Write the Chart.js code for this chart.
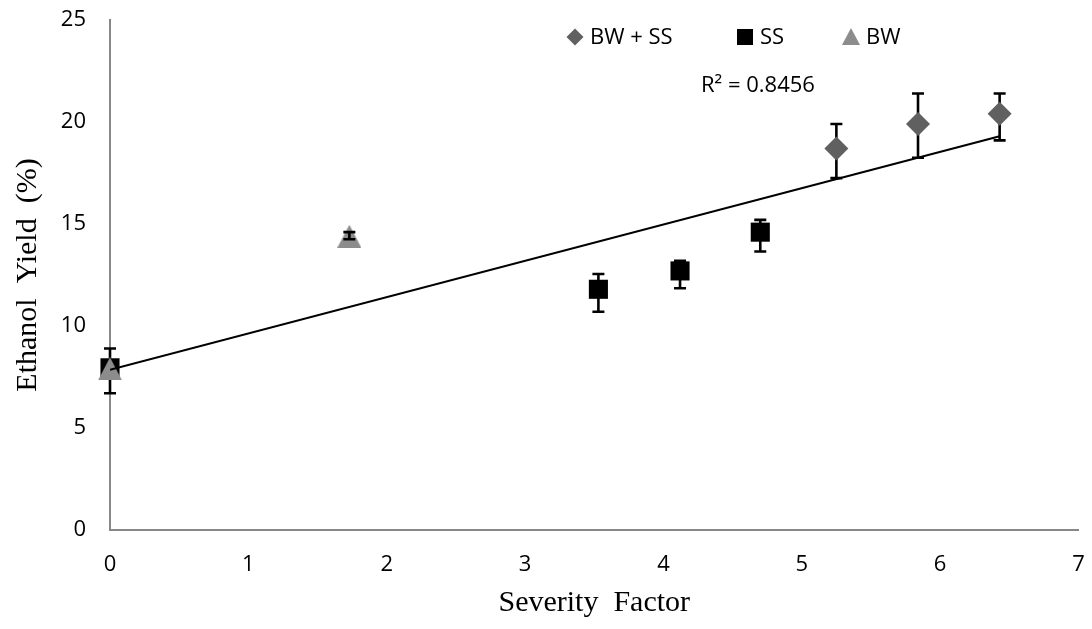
<!DOCTYPE html>
<html>
<head>
<meta charset="utf-8">
<script src="https://cdn.jsdelivr.net/npm/chart.js@4/dist/chart.umd.min.js"></script>
<style>
  html, body { margin: 0; padding: 0; background: #ffffff; }
  #wrap { width: 1092px; height: 629px; }
</style>
</head>
<body>
<div id="wrap"><canvas id="c" width="1092" height="629"></canvas></div>
<script>
// Severity factor (x) and ethanol yield (%) for each pretreatment group
const bwssX  = [5.25, 5.84, 6.43];
const bwssY  = [18.7, 19.9, 20.4];
const bwssHi = [19.9, 21.4, 21.4];
const bwssLo = [17.25, 18.25, 19.1];

const ssX  = [0, 3.53, 4.12, 4.70];
const ssY  = [7.95, 11.8, 12.7, 14.6];
const ssHi = [8.9, 12.55, 13.2, 15.2];
const ssLo = [6.7, 10.7, 11.85, 13.65];

const bwX  = [0, 1.73];
const bwY  = [7.9, 14.4];
const bwHi = [null, 14.6];
const bwLo = [null, 14.25];

// Linear trendline end points
const trendX = [0, 6.43];
const trendY = [7.85, 19.3];
const trendLabel = 'R\u00B2 = 0.8456';

const xTicks = [0, 1, 2, 3, 4, 5, 6, 7];
const yTicks = [0, 5, 10, 15, 20, 25];

const legendNames = ['BW + SS', 'SS', 'BW'];

const FONT = "'Open Sans', 'Noto Sans', sans-serif";
const SERIF = "'Liberation Serif', 'DejaVu Serif', serif";
const AXIS_GREY = '#888888';
const DIAMOND_GREY = '#606060';
const TRIANGLE_GREY = '#8c8c8c';

const pts = (xs, ys) => xs.map((x, i) => ({ x: x, y: ys[i] }));

// Triangle marker sprite (as tall as it is wide)
function triangleSprite(w, h, color) {
  const c = document.createElement('canvas');
  c.width = w; c.height = h;
  const g = c.getContext('2d');
  g.fillStyle = color;
  g.beginPath();
  g.moveTo(w / 2, 0); g.lineTo(w, h); g.lineTo(0, h);
  g.closePath();
  g.fill();
  return c;
}
const triMarker = triangleSprite(24, 23, TRIANGLE_GREY);

// Vertical error bars with caps, drawn via the chart's own scales
function drawBars(chart, dsIndex, hi, lo) {
  const ctx = chart.ctx;
  const xs = chart.scales.x, ys = chart.scales.y;
  const ds = chart.data.datasets[dsIndex];
  ctx.save();
  ctx.strokeStyle = '#000000';
  ctx.lineWidth = 2.6;
  ds.data.forEach((p, i) => {
    if (hi[i] == null || lo[i] == null) return;
    const px = xs.getPixelForValue(p.x);
    const pt = ys.getPixelForValue(hi[i]);
    const pb = ys.getPixelForValue(lo[i]);
    ctx.beginPath();
    ctx.moveTo(px, pt); ctx.lineTo(px, pb);
    ctx.moveTo(px - 6, pt); ctx.lineTo(px + 6, pt);
    ctx.moveTo(px - 6, pb); ctx.lineTo(px + 6, pb);
    ctx.stroke();
  });
  ctx.restore();
}

const errorBars = {
  id: 'errorBars',
  beforeDatasetsDraw(chart) {
    drawBars(chart, 3, bwssHi, bwssLo);
    drawBars(chart, 2, ssHi, ssLo);
  },
  afterDatasetsDraw(chart) {
    drawBars(chart, 1, bwHi, bwLo);
  }
};

function marker(ctx, kind, cx, cy, color) {
  ctx.fillStyle = color;
  ctx.beginPath();
  if (kind === 'diamond') {
    ctx.moveTo(cx, cy - 8.5); ctx.lineTo(cx + 8.5, cy);
    ctx.lineTo(cx, cy + 8.5); ctx.lineTo(cx - 8.5, cy);
  } else if (kind === 'square') {
    ctx.rect(cx - 8, cy - 8, 16, 16);
  } else {
    ctx.moveTo(cx, cy - 9); ctx.lineTo(cx + 9, cy + 8); ctx.lineTo(cx - 9, cy + 8);
  }
  ctx.closePath();
  ctx.fill();
}

// Legend row and R² annotation
const annotations = {
  id: 'annotations',
  afterDraw(chart) {
    const ctx = chart.ctx;
    ctx.save();
    ctx.font = '22px ' + FONT;
    ctx.fillStyle = '#000000';
    ctx.textBaseline = 'middle';
    ctx.textAlign = 'left';
    const items = [
      { kind: 'diamond', color: DIAMOND_GREY, mx: 575, tx: 590 },
      { kind: 'square', color: '#000000', mx: 745, tx: 760 },
      { kind: 'triangle', color: TRIANGLE_GREY, mx: 851, tx: 866 }
    ];
    items.forEach((it, i) => {
      marker(ctx, it.kind, it.mx, 37, it.color);
      ctx.fillStyle = '#000000';
      ctx.fillText(legendNames[i], it.tx, 38);
    });
    ctx.fillText(trendLabel, 701, 86);
    ctx.restore();
  }
};

new Chart(document.getElementById('c'), {
  type: 'scatter',
  data: {
    datasets: [
      {
        type: 'line', label: 'Linear', data: pts(trendX, trendY),
        borderColor: '#000000', borderWidth: 2, pointRadius: 0, fill: false
      },
      {
        label: legendNames[2], data: pts(bwX, bwY), clip: false,
        pointStyle: triMarker, pointRadius: 12, pointHoverRadius: 12,
        backgroundColor: TRIANGLE_GREY, borderWidth: 0
      },
      {
        label: legendNames[1], data: pts(ssX, ssY), clip: false,
        pointStyle: 'rect', pointRadius: 13.5, pointHoverRadius: 13.5,
        backgroundColor: '#000000', borderWidth: 0
      },
      {
        label: legendNames[0], data: pts(bwssX, bwssY), clip: false,
        pointStyle: 'rectRot', pointRadius: 12, pointHoverRadius: 12,
        backgroundColor: DIAMOND_GREY, borderWidth: 0
      }
    ]
  },
  options: {
    responsive: false,
    animation: false,
    layout: { padding: { top: 20, right: 12, bottom: 0, left: 0 } },
    plugins: { legend: { display: false }, tooltip: { enabled: false } },
    scales: {
      x: {
        type: 'linear', min: 0, max: 7,
        afterBuildTicks: s => { s.ticks = xTicks.map(v => ({ value: v })); },
        afterFit: s => { s.height = 99; s.paddingLeft = 0; s.paddingRight = 0; },
        grid: { display: false, drawTicks: false },
        border: { display: true, color: AXIS_GREY, width: 2 },
        ticks: { padding: 22, color: '#000000', font: { family: FONT, size: 22 } },
        title: {
          display: true, text: 'Severity  Factor', color: '#000000',
          font: { family: SERIF, size: 30 }, padding: { top: 0, bottom: 8 }
        }
      },
      y: {
        type: 'linear', min: 0, max: 25,
        afterBuildTicks: s => { s.ticks = yTicks.map(v => ({ value: v })); },
        afterFit: s => { s.width = 110; s.paddingTop = 0; s.paddingBottom = 0; },
        grid: { display: false, drawTicks: false },
        border: { display: true, color: AXIS_GREY, width: 2 },
        ticks: { padding: 24, color: '#000000', font: { family: FONT, size: 22 } },
        title: {
          display: true, text: 'Ethanol  Yield  (%)', color: '#000000',
          font: { family: SERIF, size: 30 }, padding: { top: 10, bottom: 0 }
        }
      }
    }
  },
  plugins: [errorBars, annotations]
});
</script>
</body>
</html>
